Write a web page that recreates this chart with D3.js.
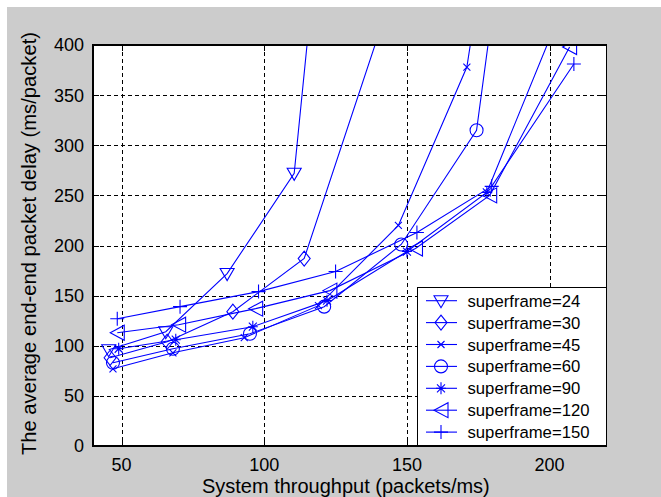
<!DOCTYPE html>
<html>
<head>
<meta charset="utf-8">
<script src="https://cdn.jsdelivr.net/npm/d3@7"></script>
<style>
  html, body { margin: 0; padding: 0; background: #ffffff; }
  svg { display: block; }
  text { font-family: "Liberation Sans", Arial, sans-serif; fill: #000; }
</style>
</head>
<body>
<svg id="chart" width="661" height="497"></svg>
<script>
// Average end-end packet delay vs. system throughput, one curve per superframe length
const xTicks = [50, 100, 150, 200];
const yTicks = [0, 50, 100, 150, 200, 250, 300, 350, 400];

const seriesNames = ["superframe=24", "superframe=30", "superframe=45", "superframe=60",
                     "superframe=90", "superframe=120", "superframe=150"];
const seriesMarkers = ["triangleDown", "diamond", "cross", "circle", "asterisk", "triangleLeft", "plus"];

// throughput (packets/ms) and delay (ms/packet) per series
const sf24x  = [45.5, 65.5, 87, 110.5, 118.5];
const sf24y  = [96, 114, 172, 272, 500];
const sf30x  = [46, 66, 89, 114, 145];
const sf30y  = [88, 104, 134, 187, 453];
const sf45x  = [47, 68, 93, 119, 147, 171, 176];
const sf45y  = [77, 93, 108, 140, 220, 378, 470];
const sf60x  = [47, 68, 95, 121, 148, 174.4, 181];
const sf60y  = [83, 97, 112, 139, 201, 315, 455];
const sf90x  = [49, 69, 96, 122, 150, 178, 205];
const sf90y  = [97, 106, 119, 145, 194, 253, 441];
const sf120x = [48.5, 70, 97, 123, 153, 179, 207];
const sf120y = [113, 121, 137, 155, 197, 250, 398];
const sf150x = [48.5, 70.5, 98, 125, 153.5, 179.7, 208.5];
const sf150y = [127, 139, 154, 174, 213, 259, 381];

const seriesX = [sf24x, sf30x, sf45x, sf60x, sf90x, sf120x, sf150x];
const seriesY = [sf24y, sf30y, sf45y, sf60y, sf90y, sf120y, sf150y];

const blue = "#0000ff";
const svg = d3.select("#chart");

// figure background
svg.append("rect").attr("x", 7).attr("y", 7).attr("width", 654).attr("height", 490)
  .attr("fill", "#cccccc");

const pLeft = 93, pRight = 606.7, pTop = 45, pBottom = 446;
const x = d3.scaleLinear().domain([40, 220]).range([pLeft, pRight]);
const y = d3.scaleLinear().domain([0, 400]).range([pBottom, pTop]);

// axes area
svg.append("rect").attr("x", pLeft).attr("y", pTop)
  .attr("width", pRight - pLeft).attr("height", pBottom - pTop).attr("fill", "#ffffff");

svg.append("clipPath").attr("id", "plotClip")
  .append("rect").attr("x", pLeft).attr("y", pTop)
  .attr("width", pRight - pLeft).attr("height", pBottom - pTop);

// dashed grid
const grid = svg.append("g").attr("stroke", "#000").attr("stroke-width", 1)
  .attr("stroke-dasharray", "4,3").attr("shape-rendering", "crispEdges");
grid.selectAll("line.gx").data(xTicks).join("line")
  .attr("x1", d => Math.round(x(d)) + 0.5).attr("x2", d => Math.round(x(d)) + 0.5)
  .attr("y1", pTop).attr("y2", pBottom);
grid.selectAll("line.gy").data(yTicks.filter(d => d > 0 && d < 400)).join("line")
  .attr("y1", d => Math.round(y(d)) + 0.5).attr("y2", d => Math.round(y(d)) + 0.5)
  .attr("x1", pLeft).attr("x2", pRight);

// marker shapes
const markerPaths = {
  triangleDown: "M-7,-5L7,-5L0,7Z",
  diamond: "M0,-7.5L6,0L0,7.5L-6,0Z",
  cross: "M-3.5,-3.5L3.5,3.5M-3.5,3.5L3.5,-3.5",
  circle: "M6.5,0A6.5,6.5 0 1,1 -6.5,0A6.5,6.5 0 1,1 6.5,0Z",
  asterisk: "M0,-6L0,6M-5,0L5,0M-4,-4L4,4M-4,4L4,-4",
  triangleLeft: "M-7,0L7,-7.5L7,7.5Z",
  plus: "M-7,0L7,0M0,-7L0,7"
};

const plot = svg.append("g").attr("clip-path", "url(#plotClip)");
const line = d3.line().x(d => x(d[0])).y(d => y(d[1]));

seriesNames.forEach((name, i) => {
  const pts = seriesX[i].map((v, j) => [v, seriesY[i][j]]);
  plot.append("path").datum(pts).attr("d", line)
    .attr("fill", "none").attr("stroke", blue).attr("stroke-width", 1.1);
  plot.selectAll(null).data(pts).join("path")
    .attr("transform", d => `translate(${x(d[0])},${y(d[1])})`)
    .attr("d", markerPaths[seriesMarkers[i]])
    .attr("fill", "none").attr("stroke", blue).attr("stroke-width", 1.1);
});

// axes box with inward ticks on all sides
const axisG = svg.append("g").attr("stroke", "#000").attr("stroke-width", 1.2)
  .attr("shape-rendering", "crispEdges");
axisG.append("rect").attr("x", pLeft).attr("y", pTop)
  .attr("width", pRight - pLeft).attr("height", pBottom - pTop).attr("fill", "none");
const tl = 6;
xTicks.forEach(d => {
  const px = Math.round(x(d)) + 0.5;
  axisG.append("line").attr("x1", px).attr("x2", px).attr("y1", pBottom).attr("y2", pBottom - tl);
  axisG.append("line").attr("x1", px).attr("x2", px).attr("y1", pTop).attr("y2", pTop + tl);
});
yTicks.forEach(d => {
  const py = Math.round(y(d)) + 0.5;
  axisG.append("line").attr("y1", py).attr("y2", py).attr("x1", pLeft).attr("x2", pLeft + tl);
  axisG.append("line").attr("y1", py).attr("y2", py).attr("x1", pRight).attr("x2", pRight - tl);
});

// tick labels
svg.selectAll("text.xt").data(xTicks).join("text")
  .attr("x", d => x(d)).attr("y", 470.5).attr("text-anchor", "middle")
  .attr("font-size", 18).text(d => d);
svg.selectAll("text.yt").data(yTicks).join("text")
  .attr("x", 84).attr("y", d => y(d)).attr("dy", "0.36em").attr("text-anchor", "end")
  .attr("font-size", 18).text(d => d);

// axis titles
svg.append("text").attr("x", (pLeft + pRight) / 2 - 4).attr("y", 492.5)
  .attr("text-anchor", "middle").attr("font-size", 20)
  .text("System throughput (packets/ms)");
svg.append("text")
  .attr("transform", `translate(36,${(pTop + pBottom) / 2 - 2}) rotate(-90)`)
  .attr("text-anchor", "middle").attr("font-size", 20.2)
  .text("The average end-end packet delay (ms/packet)");

// legend
const lg = svg.append("g");
lg.append("rect").attr("x", 417.5).attr("y", 287.5).attr("width", pRight - 417.5)
  .attr("height", pBottom - 287.5).attr("fill", "#ffffff").attr("stroke", "#000")
  .attr("stroke-width", 1.2).attr("shape-rendering", "crispEdges");
seriesNames.forEach((name, i) => {
  const cy = 300.7 + i * 21.9;
  lg.append("line").attr("x1", 426).attr("x2", 457).attr("y1", cy).attr("y2", cy)
    .attr("stroke", blue).attr("stroke-width", 1.1);
  lg.append("path").attr("transform", `translate(441,${cy})`)
    .attr("d", markerPaths[seriesMarkers[i]])
    .attr("fill", "none").attr("stroke", blue).attr("stroke-width", 1.1);
  lg.append("text").attr("x", 467.5).attr("y", cy).attr("dy", "0.36em")
    .attr("font-size", 16.7).text(name);
});
</script>
</body>
</html>
